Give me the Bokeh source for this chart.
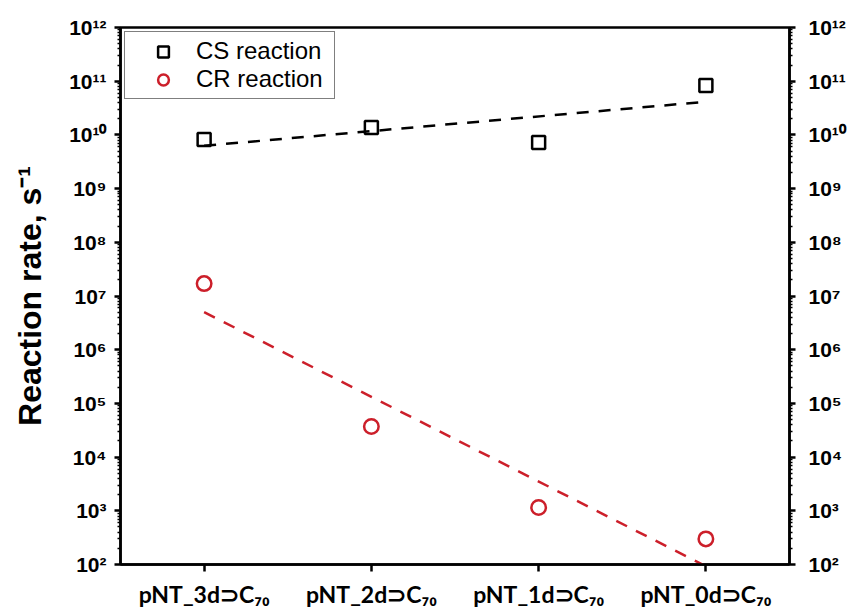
import numpy as np
from bokeh.plotting import figure
from bokeh.models import LogAxis, FixedTicker, Range1d, Legend, LegendItem
from bokeh.embed import file_html
from bokeh.resources import INLINE

# ---- data ----
categories = ["pNT_3d⊃C₇₀", "pNT_2d⊃C₇₀", "pNT_1d⊃C₇₀", "pNT_0d⊃C₇₀"]
x_pos = [1, 2, 3, 4]
cs_rate = [8.2e9, 1.38e10, 7.2e9, 8.3e10]
cr_rate = [1.7e7, 3.7e4, 1.15e3, 3.0e2]
y_exponents = list(range(2, 13))

SUP = str.maketrans("0123456789-", "⁰¹²³⁴⁵⁶⁷⁸⁹⁻")

# linear fits in log space (trend lines)
fit_x = [x_pos[0], x_pos[-1]]
cs_coef = np.polyfit(x_pos, np.log10(cs_rate), 1)
cr_coef = np.polyfit(x_pos, np.log10(cr_rate), 1)
cs_fit = [10 ** np.polyval(cs_coef, x) for x in fit_x]
cr_fit = [10 ** np.polyval(cr_coef, x) for x in fit_x]

RED = "#CC1F2A"

p = figure(width=851, height=611, y_axis_type="log",
           x_range=Range1d(0.5, 4.5), y_range=Range1d(1e2, 1e12),
           output_backend="svg", toolbar_location=None,
           min_border_left=120, min_border_right=62,
           min_border_top=27, min_border_bottom=47)

p.xgrid.visible = False
p.ygrid.visible = False
p.outline_line_color = "black"
p.outline_line_width = 2.5
p.outline_line_alpha = 1.0

major = [10.0 ** n for n in y_exponents]
minor = [k * 10.0 ** n for n in y_exponents[:-1] for k in range(2, 10)]
yticker = FixedTicker(ticks=major, minor_ticks=minor)
overrides = {10.0 ** n: "10" + str(n).translate(SUP) for n in y_exponents}

yl = p.yaxis[0]
yr = LogAxis()
p.add_layout(yr, "right")
for ax in (yl, yr):
    ax.ticker = yticker
    ax.major_label_overrides = overrides
    ax.major_label_text_font = "Liberation Sans"
    ax.major_label_text_font_style = "bold"
    ax.major_label_text_font_size = "21px"
    ax.major_label_text_color = "black"
    ax.axis_line_width = 2.5
    ax.axis_line_color = "black"
    ax.major_tick_line_width = 2.5
    ax.major_tick_line_color = "black"
    ax.minor_tick_line_width = 1.5
    ax.minor_tick_line_color = "black"
    ax.major_tick_in = 0
    ax.major_tick_out = 6
    ax.minor_tick_in = 0
    ax.minor_tick_out = 3
yl.major_label_standoff = 8
yr.major_label_standoff = 13

yl.axis_label = "Reaction rate, s" + "-1".translate(SUP)
yl.axis_label_text_font = "Liberation Sans"
yl.axis_label_text_font_style = "bold"
yl.axis_label_text_font_size = "32px"
yl.axis_label_text_color = "black"
yl.axis_label_standoff = 18

xa = p.xaxis[0]
xa.ticker = FixedTicker(ticks=x_pos, minor_ticks=[])
xa.major_label_overrides = {x: c for x, c in zip(x_pos, categories)}
xa.major_label_text_font = "Lato"
xa.major_label_text_font_style = "bold"
xa.major_label_text_font_size = "23px"
xa.major_label_text_color = "black"
xa.major_label_standoff = 8
xa.axis_line_width = 2.5
xa.axis_line_color = "black"
xa.major_tick_line_width = 2.5
xa.major_tick_line_color = "black"
xa.major_tick_in = 0
xa.major_tick_out = 7
xa.minor_tick_line_color = None

p.line(fit_x, cs_fit, line_color="black", line_width=2.5, line_dash="12 10")
p.line(fit_x, cr_fit, line_color=RED, line_width=2.5, line_dash="12 10")

r_cs = p.scatter(x_pos, cs_rate, marker="square", size=13, fill_color=None,
                 line_color="black", line_width=2.5)
r_cr = p.scatter(x_pos, cr_rate, marker="circle", size=14.5, fill_color=None,
                 line_color=RED, line_width=2.5)

legend = Legend(items=[LegendItem(label="CS reaction", renderers=[r_cs]),
                       LegendItem(label="CR reaction", renderers=[r_cr])],
                location="top_left")
legend.border_line_color = "black"
legend.border_line_width = 1.5
legend.label_text_font = "Liberation Sans"
legend.label_text_font_size = "24px"
legend.label_text_color = "black"
legend.padding = 5
legend.spacing = 0
legend.margin = 4
legend.glyph_width = 66
legend.glyph_height = 27
legend.label_height = 27
legend.label_width = 133
legend.label_standoff = 0
legend.background_fill_alpha = 1.0
p.add_layout(legend)

open("out.html", "w").write(file_html(p, INLINE))
